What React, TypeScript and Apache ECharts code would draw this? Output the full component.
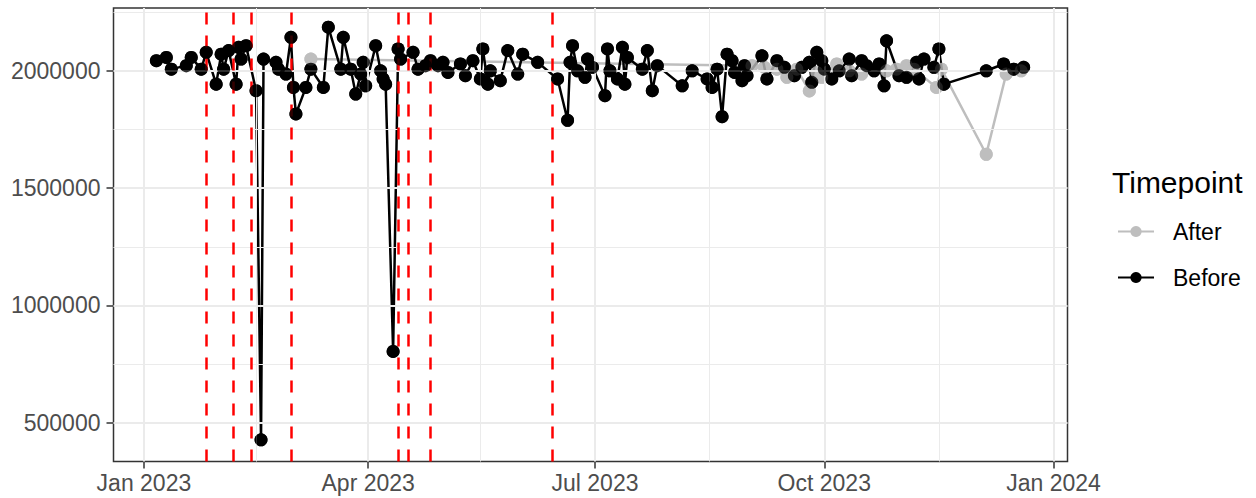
import React, { useEffect, useRef } from "react";
import * as echarts from "echarts";

const beforeDates = [
  "2023-01-06","2023-01-10","2023-01-12","2023-01-18","2023-01-20","2023-01-24","2023-01-26","2023-01-30",
  "2023-02-01","2023-02-02","2023-02-04","2023-02-07","2023-02-08","2023-02-09","2023-02-11","2023-02-15",
  "2023-02-17","2023-02-18","2023-02-23","2023-02-24","2023-02-27","2023-03-01","2023-03-02","2023-03-03",
  "2023-03-07","2023-03-09","2023-03-14","2023-03-16","2023-03-21","2023-03-22","2023-03-25","2023-03-27",
  "2023-03-29","2023-03-30","2023-03-31","2023-04-04","2023-04-06","2023-04-07","2023-04-08","2023-04-11",
  "2023-04-13","2023-04-14","2023-04-19","2023-04-21","2023-04-24","2023-04-26","2023-04-29","2023-05-01",
  "2023-05-03","2023-05-08","2023-05-10","2023-05-13","2023-05-16","2023-05-17","2023-05-19","2023-05-20",
  "2023-05-24","2023-05-27","2023-05-31","2023-06-02","2023-06-08","2023-06-16","2023-06-20","2023-06-21",
  "2023-06-22","2023-06-24","2023-06-27","2023-06-28","2023-06-30","2023-07-05","2023-07-06","2023-07-07",
  "2023-07-10","2023-07-12","2023-07-13","2023-07-14","2023-07-20","2023-07-22","2023-07-24","2023-07-26",
  "2023-08-05","2023-08-09","2023-08-15","2023-08-17","2023-08-19","2023-08-21","2023-08-23","2023-08-25",
  "2023-08-26","2023-08-29","2023-08-30","2023-08-31","2023-09-06","2023-09-08","2023-09-12","2023-09-15",
  "2023-09-19","2023-09-22","2023-09-25","2023-09-26","2023-09-28","2023-09-30","2023-10-01","2023-10-04",
  "2023-10-07","2023-10-11","2023-10-12","2023-10-16","2023-10-18","2023-10-21","2023-10-23","2023-10-25",
  "2023-10-26","2023-10-31","2023-11-03","2023-11-07","2023-11-08","2023-11-10","2023-11-14","2023-11-16",
  "2023-11-18","2023-12-05","2023-12-12","2023-12-16","2023-12-20"
];
const beforeValues = [
  2044000,2058000,2008000,2023000,2058000,2008000,2080000,1944000,
  2072000,2008000,2087000,1944000,2101000,2051000,2108000,1916000,
  427000,2051000,2037000,2008000,1987000,2144000,1930000,1817000,
  1930000,2008000,1930000,2187000,2008000,2144000,2008000,1902000,
  1987000,2037000,1937000,2108000,2001000,1966000,1944000,804000,
  2094000,2051000,2080000,2008000,2023000,2044000,2023000,2037000,
  1994000,2030000,1980000,2044000,1966000,2094000,1944000,2001000,
  1959000,2087000,1987000,2072000,2037000,1966000,1790000,2037000,
  2108000,2001000,1973000,2051000,2016000,1895000,2094000,2001000,
  1966000,2101000,1944000,2058000,2008000,2087000,1916000,2023000,
  1937000,2001000,1966000,1930000,2008000,1805000,2072000,2044000,
  1994000,1959000,2023000,1980000,2065000,1966000,2044000,2016000,
  1980000,2016000,2037000,1952000,2080000,2044000,2008000,1966000,
  2001000,2051000,1980000,2044000,2023000,2001000,2030000,1937000,
  2129000,1980000,1973000,2037000,1966000,2051000,2016000,2094000,
  1944000,2001000,2030000,2008000,2016000
];
const afterDates = [
  "2023-03-09","2023-09-02","2023-09-07","2023-09-12","2023-09-16","2023-09-20","2023-09-25","2023-09-28",
  "2023-09-30","2023-10-06","2023-10-11","2023-10-16","2023-10-26","2023-10-30","2023-11-03","2023-11-06",
  "2023-11-15","2023-11-17","2023-12-05","2023-12-13","2023-12-19"
];
const afterValues = [
  2051000,2023000,2016000,2008000,1973000,2008000,1915000,1994000,
  1973000,2030000,2001000,1987000,2001000,2008000,2023000,2008000,
  1930000,2008000,1645000,1987000,2001000
];
const eventDates = ["2023-01-26","2023-02-06","2023-02-13","2023-03-01","2023-04-13","2023-04-17","2023-04-26","2023-06-14"];
const xTickDates = ["2023-01-01","2023-04-01","2023-07-01","2023-10-01","2024-01-01"];
const xTickLabels = ["Jan 2023","Apr 2023","Jul 2023","Oct 2023","Jan 2024"];
const xMinorDates = ["2023-02-15","2023-05-16","2023-08-16","2023-11-16"];
const yTicks = [500000, 1000000, 1500000, 2000000];
const yMinor = [750000, 1250000, 1750000, 2250000];

const DAY = 86400000;
function ts(s: string): number {
  const [y, m, d] = s.split("-").map(Number);
  return Date.UTC(y, m - 1, d);
}

const FONT = "'Liberation Sans', Arial, Helvetica, sans-serif";

export default function App() {
  const ref = useRef<HTMLDivElement>(null);
  useEffect(() => {
    if (!ref.current) return;
    const chart = echarts.init(ref.current, undefined, { renderer: "svg" });
    const base = ts("2023-01-01");
    const xTickTs = xTickDates.map(ts);
    const gridLines: any[] = [
      ...yMinor.map((v) => ({ yAxis: v, lineStyle: { color: "#ebebeb", width: 1, type: "solid" } })),
      ...xMinorDates.map((d) => ({ xAxis: ts(d), lineStyle: { color: "#ebebeb", width: 1, type: "solid" } })),
      ...yTicks.map((v) => ({ yAxis: v, lineStyle: { color: "#ebebeb", width: 2, type: "solid" } })),
      ...xTickTs.map((t) => ({ xAxis: t, lineStyle: { color: "#ebebeb", width: 2, type: "solid" } })),
    ];
    const afterData = afterDates.map((d, i) => [ts(d), afterValues[i]]);
    const beforeData = beforeDates.map((d, i) => [ts(d), beforeValues[i]]);
    const legendCommon = {
      orient: "vertical",
      left: 1117,
      padding: 0,
      itemWidth: 36,
      itemHeight: 14,
      selectedMode: false,
      textStyle: { fontSize: 23, color: "#000", fontFamily: FONT, padding: [0, 0, 0, 14] },
    };
    chart.setOption({
      animation: false,
      backgroundColor: "#ffffff",
      textStyle: { fontFamily: FONT },
      title: {
        text: "Timepoint",
        left: 1112,
        top: 167,
        padding: 0,
        textStyle: { fontSize: 30, fontWeight: "normal", color: "#000", fontFamily: FONT },
      },
      legend: [
        { ...legendCommon, data: ["After"], top: 220 },
        { ...legendCommon, data: ["Before"], top: 266 },
      ],
      grid: {
        left: 113.5,
        right: 188.5,
        top: 8,
        bottom: 36.5,
        show: true,
        borderColor: "#333333",
        borderWidth: 1.5,
        backgroundColor: "transparent",
      },
      xAxis: {
        type: "value",
        min: base - 12.2 * DAY,
        max: base + 370.6 * DAY,
        axisLine: { show: false },
        splitLine: { show: false },
        axisTick: {
          show: true,
          length: 7,
          lineStyle: { color: "#333333", width: 1.5 },
          customValues: xTickTs,
        },
        axisLabel: {
          customValues: xTickTs,
          color: "#4d4d4d",
          fontSize: 23,
          fontFamily: FONT,
          margin: 10,
          formatter: (v: number) => {
            const i = xTickTs.indexOf(v);
            if (i >= 0) return xTickLabels[i];
            const d = new Date(v);
            const m = ["Jan","Feb","Mar","Apr","May","Jun","Jul","Aug","Sep","Oct","Nov","Dec"][d.getUTCMonth()];
            return m + " " + d.getUTCFullYear();
          },
        },
      },
      yAxis: {
        type: "value",
        min: 334500,
        max: 2268800,
        axisLine: { show: false },
        splitLine: { show: false },
        axisTick: {
          show: true,
          length: 7,
          lineStyle: { color: "#333333", width: 1.5 },
          customValues: yTicks,
        },
        axisLabel: {
          customValues: yTicks,
          color: "#4d4d4d",
          fontSize: 23,
          fontFamily: FONT,
          margin: 13,
          formatter: (v: number) => String(v),
        },
      },
      series: [
        {
          name: "grid",
          type: "line",
          data: [],
          z: 1,
          silent: true,
          markLine: {
            silent: true,
            symbol: ["none", "none"],
            label: { show: false },
            data: gridLines,
          },
        },
        {
          name: "After",
          type: "line",
          data: afterData,
          z: 2,
          color: "#bebebe",
          lineStyle: { color: "#bebebe", width: 2.5 },
          itemStyle: { color: "#bebebe" },
          symbol: "circle",
          symbolSize: 13,
          showSymbol: true,
          silent: true,
        },
        {
          name: "Before",
          type: "line",
          data: beforeData,
          z: 3,
          color: "#000000",
          lineStyle: { color: "#000000", width: 2.5 },
          itemStyle: { color: "#000000" },
          symbol: "circle",
          symbolSize: 13,
          showSymbol: true,
          silent: true,
        },
        {
          name: "After points",
          type: "scatter",
          data: afterData,
          z: 4,
          symbol: "circle",
          symbolSize: 13,
          itemStyle: { color: "#bebebe" },
          silent: true,
        },
        {
          name: "Before points",
          type: "scatter",
          data: beforeData,
          z: 5,
          symbol: "circle",
          symbolSize: 13,
          itemStyle: { color: "#000000" },
          silent: true,
        },
        {
          name: "events",
          type: "line",
          data: [],
          z: 6,
          silent: true,
          markLine: {
            silent: true,
            symbol: ["none", "none"],
            label: { show: false },
            lineStyle: { color: "#ff0000", width: 2.5, type: [12, 11] },
            data: eventDates.map((d) => ({ xAxis: ts(d) })),
          },
        },
      ],
    });
    return () => chart.dispose();
  }, []);
  return (
    <div
      ref={ref}
      style={{ position: "fixed", left: 0, top: 0, width: 1256, height: 498, background: "#fff" }}
    />
  );
}
